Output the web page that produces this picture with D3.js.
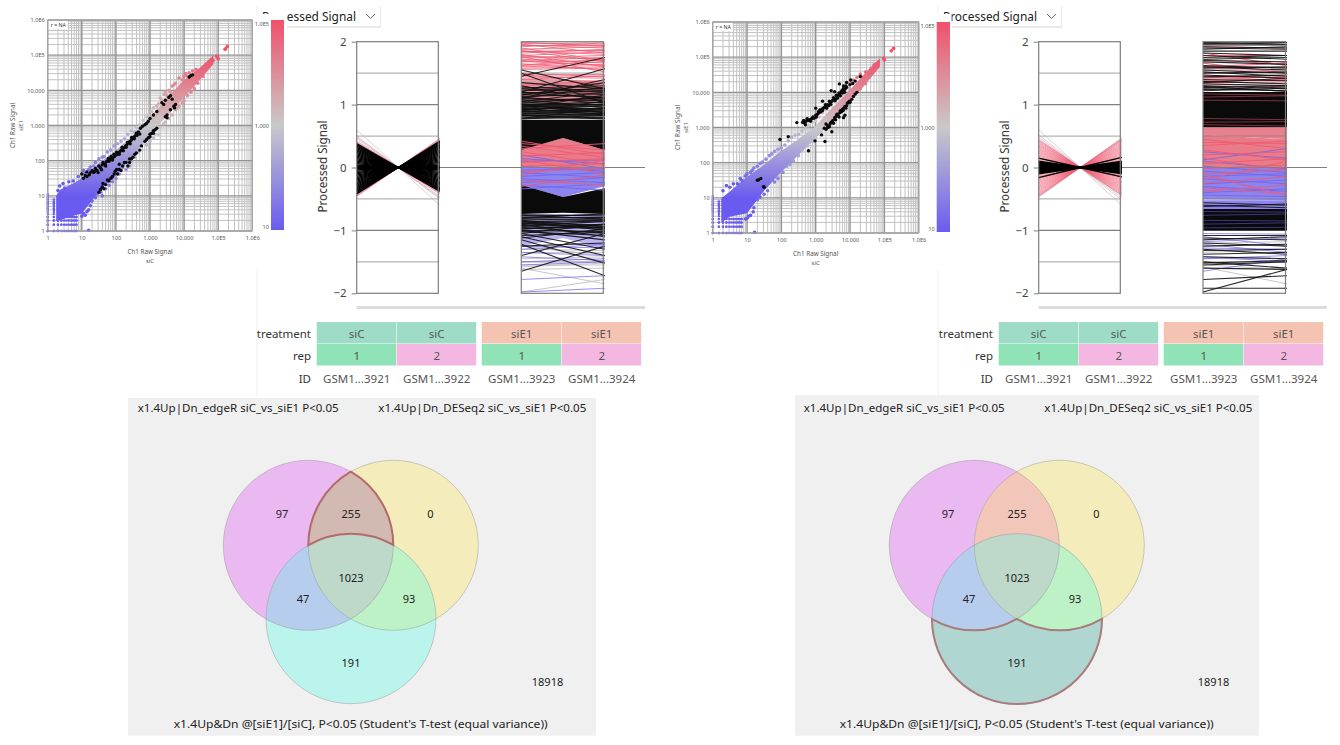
<!DOCTYPE html>
<html>
<head>
<meta charset="utf-8">
<script src="https://cdn.jsdelivr.net/npm/d3@7/dist/d3.min.js"></script>
<style>
html,body{margin:0;padding:0;background:#fff}
svg{display:block}
text{font-family:"Noto Sans","Open Sans",sans-serif;fill:#444}
</style>
</head>
<body>
<svg id="chart" width="1340" height="745"></svg>
<script>
// ---- scatter data: log10 signal pairs [siC, siE1] ----
const axisTickValues = [1, 10, 100, 1000, 10000, 100000, 1000000];
const axisTickLabels = ["1", "10", "100", "1,000", "10,000", "1.0E5", "1.0E6"];
const legendTickValues = [10, 1000, 100000];
const legendTickLabels = ["10", "1,000", "1.0E5"];

const bodyKnotsA = [[.25,.28,1.0],[.36,.31,1.17],[.8,.45,1.38],[1.0,.5,1.5],[1.53,1.15,1.95],[2.02,1.6,2.3],[2.5,2.15,2.72],[3.0,2.74,3.24],[3.49,3.26,3.76],[3.98,3.78,4.28],[4.47,4.3,4.65],[4.86,4.75,5.0]];
const bodyKnotsB = [[.25,.3,.98],[.5,.46,1.18],[1.0,.56,1.6],[1.48,1.18,1.93],[1.96,1.7,2.31],[2.45,2.17,2.64],[2.93,2.64,2.98],[3.42,3.12,3.5],[3.9,3.64,3.97],[4.39,4.16,4.49],[4.87,4.73,4.97]];

const fringeA = [[1.09,1.64],[.9,1.55],[.75,1.42],[.62,1.4],[.45,1.35],[.35,1.28],[.5,1.22],[.3,1.15],[1.2,1.75],[1.35,1.85],[1.65,2.12],[1.85,2.3],[2.15,2.55],[2.35,2.75],[2.6,2.95],[2.8,3.15],[2.9,3.25],[3.1,3.5],[3.2,3.55],[3.35,3.72],[3.5,3.85],[3.45,3.95],[3.55,4.0],[3.65,4.12],[3.7,4.15],[3.85,4.35],[4.0,4.4],[4.1,4.4],[4.15,4.5],[1.15,.55],[1.2,.6],[1.1,.45],[.95,.55],[1.45,1.05],[1.6,1.0],[1.9,1.4],[1.9,1.5],[2.2,1.8],[2.45,2.0],[2.75,2.45],[2.85,2.55],[3.1,2.65],[3.25,2.75],[3.4,3.05],[3.55,3.2],[3.75,3.45],[3.85,3.55],[3.95,3.65],[4.1,3.85],[4.3,4.05],[1.2,.02],[4.62,4.68],[4.7,4.77],[4.74,4.72],[4.78,4.76],[4.85,4.85],[4.95,4.97],[5.0,4.9],[4.98,4.95],[5.2,5.17],[5.27,5.25],[5.22,5.18],
  [1.05,1.72],[1.25,1.82],[1.4,1.95],[1.5,2.05],[1.6,2.1],[1.75,2.25],[1.95,2.42],[2.05,2.48],[2.25,2.62],[2.45,2.85],[2.55,2.82],[2.7,3.02],[2.95,3.3],[3.05,3.4],[3.25,3.62],[3.3,3.78],[3.42,3.88],[3.6,3.95],[3.75,4.2],[3.95,4.3],[4.05,4.48],[4.25,4.55],[4.35,4.6],
  [1.0,.42],[1.05,.5],[1.25,.72],[1.3,.85],[1.4,.95],[1.55,1.1],[1.7,1.2],[1.8,1.3],[2.0,1.5],[2.1,1.62],[2.3,1.75],[2.4,1.85],[2.55,2.1],[2.65,2.25],[2.9,2.45],[3.0,2.55],[3.15,2.75],[3.3,2.95],[3.45,3.1],[3.65,3.3],[3.8,3.5],[4.0,3.7],[4.2,3.95],[4.4,4.2],[4.55,4.4]];
const fringeB = [[.3,1.2],[.5,1.3],[.72,1.4],[.85,1.5],[1.0,1.68],[1.15,1.78],[1.3,1.9],[1.45,2.02],[1.65,2.2],[1.72,2.25],[1.9,2.38],[2.1,2.5],[2.3,2.72],[2.6,2.9],[2.8,3.05],[3.1,3.3],[3.3,3.55],[3.6,3.85],[3.85,4.1],[4.1,4.35],[.95,.4],[1.1,.5],[1.18,.6],[1.3,.95],[1.5,1.1],[1.72,1.5],[1.9,1.55],[2.15,1.9],[2.35,2.05],[2.6,2.35],[3.0,2.7],[3.3,3.05],[3.6,3.4],[4.0,3.75],[4.3,4.1],[1.22,.02],[4.45,4.58],[4.55,4.6],[4.62,4.68],[4.7,4.78],[4.76,4.8],[4.82,4.82],[4.98,4.97],[5.0,4.92],[5.2,5.18],[5.27,5.25],
  [.4,1.35],[.6,1.4],[.8,1.55],[.95,1.62],[1.1,1.72],[1.2,1.85],[1.38,1.98],[1.55,2.1],[1.8,2.32],[2.0,2.42],[2.2,2.62],[2.4,2.78],[2.5,2.8],[2.7,2.98],[2.9,3.15],[3.0,3.2],[3.2,3.42],[3.4,3.65],[3.7,3.95],[4.0,4.28],[4.2,4.42],[4.3,4.52],
  [1.0,.42],[1.05,.48],[1.2,.72],[1.38,1.02],[1.6,1.2],[1.8,1.45],[2.05,1.72],[2.25,1.95],[2.5,2.2],[2.75,2.48],[2.9,2.6],[3.15,2.88],[3.45,3.15],[3.75,3.5],[4.15,3.95],[4.45,4.25],[4.6,4.5]];

const blackUpperA = [[1.0,1.62],[1.1,1.58],[1.15,1.68],[1.22,1.6],[1.3,1.72],[1.35,1.66],[1.4,1.78],[1.45,1.72],[1.5,1.85],[1.55,1.8],[1.6,1.88],[1.62,1.95],[1.68,1.9],[1.72,1.97],[1.76,2.0],[1.8,1.98],[1.84,2.04],[1.88,2.06],[1.92,2.1],[1.96,2.12],[2.0,2.16],[2.04,2.18],[2.08,2.22],[2.12,2.26],[2.16,2.3],[2.2,2.34],[2.24,2.37],[2.28,2.42],[2.32,2.45],[2.36,2.5],[2.4,2.54],[2.44,2.57],[2.48,2.62],[2.52,2.66],[2.56,2.7],[2.62,2.72],[2.66,2.82],[2.72,2.92],[2.78,2.98],[2.85,3.02],[2.95,3.12],[3.0,3.2],[3.2,3.4],[3.35,3.65],[3.4,3.6],[3.6,3.85],[3.65,3.75],[4.15,4.38],[4.2,4.42],[4.25,4.44],
  [2.02,2.24],[2.1,2.18],[2.18,2.38],[2.22,2.28],[2.3,2.38],[2.34,2.52],[2.42,2.48],[2.46,2.66],[2.54,2.62],[1.9,2.02],[1.86,2.12],[1.94,2.18],[1.78,2.06],[1.7,1.85],[1.58,1.74],[1.48,1.66],[1.38,1.7],[1.25,1.66],[1.05,1.5],[1.15,1.55],[2.6,2.78],[2.7,2.76],[2.9,3.06],[3.1,3.3],[3.55,3.8],[3.45,3.72]];
const blackLowerA = [[1.5,1.1],[1.55,1.18],[1.6,1.25],[1.62,1.35],[1.7,1.32],[1.75,1.45],[1.85,1.5],[1.9,1.55],[1.95,1.62],[1.98,1.7],[2.05,1.62],[2.02,1.75],[2.1,1.75],[2.2,1.85],[2.3,1.95],[2.35,1.85],[2.4,2.05],[2.45,2.05],[2.5,2.1],[2.6,2.22],[2.7,2.3],[2.85,2.55],[2.95,2.65],[3.0,2.75],[3.05,2.78],[3.1,2.85],[3.15,2.88],[3.2,2.92],[3.45,3.25],[3.5,3.3],[3.7,3.55],[3.72,3.5],[3.75,3.6],
  [2.1,1.9],[2.25,1.95],[2.4,1.95],[2.55,2.18],[2.15,1.72],[1.8,1.42],[1.65,1.2],[3.0,2.68],[3.1,2.78],[3.5,3.22],[3.6,3.45],[2.75,2.42],[2.9,2.6]];
const blackUpperB = [[2.62,3.15],[2.68,3.12],[2.72,3.18],[2.78,3.2],[2.82,3.22],[2.88,3.25],[2.92,3.3],[2.95,3.26],[3.0,3.35],[3.05,3.38],[3.1,3.42],[3.12,3.5],[3.18,3.52],[3.22,3.55],[3.26,3.58],[3.3,3.6],[3.34,3.65],[3.38,3.62],[3.42,3.7],[3.46,3.74],[3.5,3.78],[3.54,3.82],[3.58,3.8],[3.62,3.88],[3.66,3.92],[3.7,3.95],[3.74,4.0],[3.78,3.98],[3.82,4.06],[3.86,4.1],[3.9,4.14],[4.0,4.22],[4.08,4.25],[4.15,4.32],[4.3,4.45],[3.45,4.05],[3.69,4.24],[3.81,4.18],[3.2,3.75],[3.0,3.55],[3.55,4.02],[2.45,3.14],[3.9,4.28],[4.02,4.35],
  [3.02,3.3],[3.08,3.45],[3.15,3.45],[3.2,3.48],[3.28,3.65],[3.32,3.55],[3.4,3.75],[3.44,3.66],[3.52,3.85],[3.56,3.76],[3.6,3.92],[3.64,3.84],[3.68,3.98],[3.72,3.9],[3.76,4.05],[3.8,4.1],[3.84,4.0],[3.88,4.18],[2.7,3.08],[2.85,3.18],[2.65,3.2],[2.75,3.25]];
const blackLowerB = [[3.25,2.98],[3.3,2.95],[3.35,3.05],[3.42,3.1],[3.5,3.2],[3.55,3.28],[3.6,3.32],[3.65,3.35],[3.7,3.42],[3.72,3.48],[3.78,3.52],[3.82,3.55],[3.85,3.6],[3.9,3.62],[3.95,3.7],[4.0,3.72],[4.05,3.8],[4.15,3.95],[4.2,4.0],[3.81,3.28],[3.85,3.35],[3.47,2.88],[3.27,2.6],[2.98,2.62],[2.79,2.34],[3.17,2.79],[1.96,2.66],[2.2,2.74],[1.33,1.51],[1.4,1.55],[1.48,1.32],[1.5,1.3],[1.3,1.5],
  [3.35,3.0],[3.4,3.02],[3.45,3.15],[3.52,3.12],[3.58,3.22],[3.62,3.38],[3.68,3.3],[3.75,3.45],[3.8,3.48],[3.88,3.55],[3.92,3.7],[3.98,3.75],[4.1,3.88],[3.3,3.1]];

// Low-count signals sit on a discrete lattice of log10 levels.
const latticeLevels = [0,.18,.3,.4,.48,.54,.6,.65,.7,.74,.78,.82,.85];
const latticeRowReach = [[0,.85],[.18,.85],[.3,.85],[.4,.85]];
const latticeColReach = [[0,1.05],[.18,.9],[.3,1.0],[.4,1.05]];

// ---- parallel-coordinate data ----
const valueTicks = [2, 1, 0, -1, -2];
const gridMajor = [1, 0, -1];
const gridMinor = [1.5, .5, -.5, -1.5];

const fanBlackA = [-.42,-.4,-.38,-.36,-.34,-.32,-.3,-.28,-.26,-.24,-.22,-.2,-.18,-.16,-.14,-.12,-.1,-.08,-.06,-.04,-.02,0,.02,.04,.06,.08,.1,.12,.14,.16,.18,.2,.22,.24,.26,.28,.3,.32,.34,.36,.38];
const fanPinkA = [-.46,-.44,-.42,.42,.4];
const fanGreyA = [.6,.5,.48,.46,-.45];
const fanBlackB = [-.16,-.1,-.09,-.08,-.07,-.06,-.05,-.04,-.03,-.02,-.01,0,.01,.02,.03,.04,.05,.06,.07,.08,.09,.1,.15];
const fanPinkB = [-.46,-.44,-.42,-.4,-.38,-.36,-.34,-.32,-.3,-.28,-.26,-.24,-.22,-.2,-.18,-.16,-.14,-.12,.12,.14,.16,.18,.2,.22,.24,.26,.28,.3,.32,.34,.36,.38,.4,.42,.44];
const fanGreyB = [.6,.52,.48,.45,-.47,-.44];

// Shaded bands: [position across the panel, lower value, upper value]
const lensUpA = [[0,0,.28],[.5,0,.47],[1,0,.28]];
const lensDownA = [[0,-.28,0],[.5,-.47,0],[1,-.3,0]];
const solidUpA = [[0,.28,.76],[.5,.47,.76],[1,.28,.76]];
const solidDownA = [[0,-.74,-.28],[.5,-.72,-.47],[1,-.74,-.33]];
const paleRedA = [[0,1.02,1.42],[1,1.02,1.38]];
const paleBlueA = [[0,-1.25,-.74],[.5,-1.12,-.74],[1,-1.3,-.74]];
const lensUpB = [[0,0,.52],[1,0,.45]];
const lensDownB = [[0,-.5,0],[1,-.52,0]];
const solidUpB = [[0,.64,1.2],[1,.64,1.2]];
const solidDownB = [[0,-1.0,-.66],[1,-1.0,-.66]];
const paleRedB = [[0,.52,.64],[1,.45,.64]];
const paleBlueB = [[0,-.66,-.52],[1,-.66,-.52]];

// Individual profiles: [value at left edge, value at right edge]
const redTopA = [[1.98,1.96],[1.95,1.9],[1.92,1.98],[1.9,1.7],[1.88,1.92],[1.85,1.8],[1.82,1.88],[1.8,1.6],[1.78,1.84],[1.75,1.78],[1.72,1.66],[1.7,1.75],[1.68,1.7],[1.65,1.55],[1.62,1.68],[1.6,1.64],[1.96,1.82],[1.58,1.6],[1.99,1.93],[1.76,1.52],[1.5,1.44],[1.47,1.48],[1.44,1.42],[1.49,1.3],[1.4,1.46],[1.3,1.38],[1.94,1.94],[1.84,1.86],[1.77,1.72],[1.69,1.62],[1.86,1.68],[1.63,1.72],[1.56,1.58]];
const greyTopA = [[1.97,1.99],[1.87,1.86],[1.74,1.74],[1.45,1.45],[1.38,1.36]];
const blackTopA = [[1.55,1.25],[1.5,1.02],[1.45,1.75],[1.2,1.57],[1.35,1.25],[1.1,1.4],[1.3,1.05],[1.25,1.2],[1.15,1.35],[1.2,1.1],[1.1,1.28],[1.05,1.2],[1.0,1.0],[1.08,.95],[.95,1.15],[.9,1.05],[1.0,.88],[.92,.98],[.88,.95],[1.02,1.12],[.85,.9],[.82,.86],[.78,.95],[.98,.92],[.94,.84],[1.12,1.02],[1.18,1.22],
  [.78,.8],[.8,.78],[.82,.8],[.84,.82],[.86,.84],[.88,.86],[.9,.88],[.92,.9],[.94,.94],[.96,.98],[.98,1.0],[1.0,1.04],[1.03,1.0],[1.05,1.08],[1.07,1.1],[1.1,1.06],[1.13,1.16],[1.16,1.12],[1.19,1.18],[1.22,1.25],[1.26,1.3],[1.28,1.22],[.77,.83],[.83,.77],[.89,.93],[.97,.87]];
const blackBottomA = [[-1.65,-1.25],[-1.22,-1.72],[-1.15,-1.52],[-1.1,-1.4],[-1.25,-1.2],[-1.05,-1.3],[-1.0,-1.15],[-.95,-1.05],[-.9,-1.1],[-1.05,-.9],[-.85,-1.0],[-.88,-.85],[-1.4,-1.05],[-.92,-.86],[-.84,-.94],[-1.12,-.98],[-.98,-.9],[-1.02,-1.08],
  [-.75,-.77],[-.77,-.75],[-.79,-.8],[-.81,-.79],[-.83,-.82],[-.86,-.84],[-.89,-.91],[-.92,-.93],[-.94,-.97],[-.97,-.95],[-1.0,-1.02],[-.76,-.82],[-.8,-.74],[-1.08,-1.03],[-.88,-.96]];
const blueBottomA = [[-1.42,-1.48],[-1.5,-1.45],[-1.55,-1.5],[-1.78,-1.72],[-1.25,-1.28],[-1.35,-1.4],[-1.98,-1.92],[-1.3,-1.22]];
const greyBottomA = [[-1.98,-1.78],[-1.6,-1.85],[-1.55,-1.55],[-1.5,-1.5],[-1.35,-1.35],[-1.45,-1.42],[-1.62,-1.6],[-1.3,-1.32],[-1.58,-1.52],[-1.25,-1.4]];
const redLensA = [[.42,.2],[.3,.38],[.25,.05],[.18,.24],[.12,-.1],[.08,.14],[.02,.06],[-.06,-.02],[-.12,.12],[-.2,-.28],[-.3,-.12],[.38,.28],[.34,.16]];
const blueLensA = [[.2,-.02],[.1,.12],[.02,-.06],[-.04,-.02],[-.08,-.16],[-.14,-.08],[-.18,-.24],[-.24,-.16],[-.28,-.36],[-.34,-.26],[.14,.06]];

const redTopB = [[1.72,1.64],[1.66,1.5],[1.46,1.42],[1.42,1.44],[1.38,1.4],[1.92,1.9],[1.82,1.62],[1.55,1.55],[1.78,1.78],[1.6,1.66],[1.3,1.28],[1.35,1.36],[1.44,1.38]];
const blackTopB = [[1.99,1.96],[1.95,1.95],[1.92,1.9],[1.88,1.92],[1.85,1.85],[1.78,1.72],[1.75,1.78],[1.68,1.64],[1.62,1.58],[1.58,1.6],[1.55,1.5],[1.52,1.45],[1.5,1.52],[1.4,1.38],[1.35,1.42],[1.3,1.25],[1.27,1.3],
  [1.25,1.22],[1.24,1.28],[1.33,1.3],[1.37,1.33],[1.47,1.42],[1.44,1.47],[1.6,1.55],[1.7,1.68],[1.72,1.75],[1.82,1.78],[1.9,1.88],[1.97,1.99],[1.22,1.26],[1.29,1.21]];
const streakRedB = [[1.17,1.15],[1.12,1.14],[1.07,1.06],[.78,.76],[.72,.73],[.68,.66]];
const streakBlueB = [[-.7,-.71],[-.76,-.74],[-.84,-.85],[-.9,-.88],[-.96,-.95]];
const blackBottomB = [[-1.98,-1.62],[-1.78,-1.72],[-1.92,-1.92],[-1.6,-1.62],[-1.55,-1.5],[-1.52,-1.48],[-1.5,-1.6],[-1.38,-1.35],[-1.32,-1.3],[-1.25,-1.22],[-1.2,-1.25],[-1.15,-1.1],[-1.42,-1.45],[-1.3,-1.38],[-1.12,-1.15],[-1.08,-1.08],[-.62,-.58],[-.56,-.6],[-.6,-.64]];
const blueBottomB = [[-1.42,-1.5],[-1.65,-1.45],[-1.22,-1.35],[-1.1,-1.25],[-1.05,-1.06],[-1.18,-1.12],[-1.45,-1.4],[-1.28,-1.3]];
const greyBottomB = [[-1.55,-1.62],[-1.58,-1.85],[-1.45,-1.45],[-1.35,-1.3],[-1.2,-1.18]];
const redLensB = [[.45,.3],[.35,.42],[.28,.12],[.2,.25],[.15,-.05],[.06,.14],[-.02,.04],[-.1,-.04],[-.2,.1],[-.32,-.42],[-.25,-.15],[-.38,-.28],[.4,.38],[-.12,-.44]];
const blueLensB = [[.25,.15],[.12,.3],[.1,-.02],[.02,-.08],[-.06,-.14],[-.14,-.1],[-.18,-.26],[-.26,-.2],[-.3,-.38],[-.4,-.34],[-.44,-.46]];

// ---- sample table ----
const treatments = ["siC", "siC", "siE1", "siE1"];
const replicates = ["1", "2", "1", "2"];
const sampleIds = ["GSM1...3921", "GSM1...3922", "GSM1...3923", "GSM1...3924"];

// ---- set overlap counts ----
const setTitles = ["x1.4Up|Dn_edgeR siC_vs_siE1 P<0.05", "x1.4Up|Dn_DESeq2 siC_vs_siE1 P<0.05", "x1.4Up&Dn @[siE1]/[siC], P<0.05 (Student's T-test (equal variance))"];
const regionCounts = { a: 97, ab: 255, b: 0, abc: 1023, ac: 47, bc: 93, c: 191, none: 18918 };

const svg = d3.select("#chart");
const defs = svg.append("defs");
let uid = 0;

// ---- colour ramp shared by the scatter and its legend ----
const rampColors = ["#6a5bf0", "#c9c9c9", "#f0506a"];
const signalColor = d3.scaleLog().domain(legendTickValues).range(rampColors).clamp(true);

function settingsBar(x0, x1) {
  svg.append("line").attr("x1", x0).attr("x2", x0).attr("y1", 5).attr("y2", 396).attr("stroke", "#efefef");
  const box = svg.append("g");
  box.append("rect").attr("x", x0 + 2).attr("y", 6).attr("width", x1 - x0 - 2).attr("height", 22).attr("fill", "#e9e9e9");
  box.append("rect").attr("x", x0 + 1).attr("y", 5).attr("width", x1 - x0 - 2).attr("height", 21).attr("fill", "#fff");
  box.append("text").attr("x", x0 + 5).attr("y", 21).attr("font-size", 12).attr("textLength", 94).attr("lengthAdjust", "spacingAndGlyphs").style("fill", "#222").text("Processed Signal");
  box.append("path").attr("d", `M${x1 - 15},14l4.5,4.5l4.5,-4.5`).attr("fill", "none").attr("stroke", "#666");
}

function scatter(o) {
  const g = svg.append("g");
  g.append("rect").attr("x", o.cover[0]).attr("y", 14).attr("width", o.cover[1] - o.cover[0]).attr("height", 256).attr("fill", "#fff");

  const x = d3.scaleLog().domain([1, 1e6]).range(o.xr);
  const y = d3.scaleLog().domain([1, 1e6]).range(o.yr);
  const minor = [];
  d3.range(0, 6).forEach(d => d3.range(2, 10).forEach(m => minor.push(m * 10 ** d)));
  const grid = g.append("g");
  grid.selectAll(".mx").data(minor).join("line").attr("x1", x).attr("x2", x).attr("y1", o.yr[0]).attr("y2", o.yr[1]).attr("stroke", "#c2c2c2").attr("stroke-width", 1);
  grid.selectAll(".my").data(minor).join("line").attr("y1", y).attr("y2", y).attr("x1", o.xr[0]).attr("x2", o.xr[1]).attr("stroke", "#c2c2c2").attr("stroke-width", 1);
  grid.selectAll(".Mx").data(axisTickValues).join("line").attr("x1", x).attr("x2", x).attr("y1", o.yr[0]).attr("y2", o.yr[1]).attr("stroke", "#929292").attr("stroke-width", 1.4);
  grid.selectAll(".My").data(axisTickValues).join("line").attr("y1", y).attr("y2", y).attr("x1", o.xr[0]).attr("x2", o.xr[1]).attr("stroke", "#929292").attr("stroke-width", 1.4);

  const labelOf = d => axisTickLabels[axisTickValues.indexOf(d)];
  const ax = g.append("g").attr("transform", `translate(0,${o.yr[0]})`).call(d3.axisBottom(x).tickValues(axisTickValues).tickFormat(labelOf).tickSize(0).tickPadding(5));
  const ay = g.append("g").attr("transform", `translate(${o.xr[0]},0)`).call(d3.axisLeft(y).tickValues(axisTickValues).tickFormat(labelOf).tickSize(0).tickPadding(3));
  [ax, ay].forEach(a => { a.select(".domain").remove(); a.selectAll("text").attr("font-size", 5.6).style("fill", "#555"); });

  const cx = (o.xr[0] + o.xr[1]) / 2;
  g.append("text").attr("x", cx).attr("y", o.yr[0] + 23).attr("text-anchor", "middle").attr("font-size", 6.3).style("fill", "#555").text("Ch1 Raw Signal");
  g.append("text").attr("x", cx).attr("y", o.yr[0] + 32).attr("text-anchor", "middle").attr("font-size", 6).style("fill", "#555").text("siC");
  const midY = (o.yr[0] + o.yr[1]) / 2;
  g.append("text").attr("transform", `translate(${o.xr[0] - 33},${midY}) rotate(-90)`).attr("text-anchor", "middle").attr("font-size", 6.3).style("fill", "#555").text("Ch1 Raw Signal");
  g.append("text").attr("transform", `translate(${o.xr[0] - 25},${midY}) rotate(-90)`).attr("text-anchor", "middle").attr("font-size", 6).style("fill", "#555").text("siE1");

  // ribbon of overplotted probes, coloured by signal level
  const gid = "ramp" + (++uid);
  const grad = defs.append("linearGradient").attr("id", gid).attr("gradientUnits", "userSpaceOnUse")
    .attr("x1", 0).attr("x2", 0).attr("y1", y(10)).attr("y2", y(1e5));
  [[0, rampColors[0]], [.5, rampColors[1]], [1, rampColors[2]]].forEach(s => grad.append("stop").attr("offset", s[0]).attr("stop-color", s[1]));
  const ribbon = d3.area().x(d => x(10 ** d[0])).y0(d => y(10 ** d[1])).y1(d => y(10 ** d[2]));
  g.append("path").attr("d", ribbon(o.body)).attr("fill", `url(#${gid})`);

  const lattice = [];
  latticeRowReach.forEach(r => latticeLevels.filter(v => v <= r[1]).forEach(v => lattice.push([v, r[0]])));
  latticeColReach.forEach(c => latticeLevels.concat([.9, .95, 1, 1.05]).filter(v => v <= c[1]).forEach(v => lattice.push([c[0], v])));
  g.selectAll(".lat").data(lattice).join("circle").attr("cx", d => x(10 ** d[0])).attr("cy", d => y(10 ** d[1])).attr("r", 1.2).attr("fill", rampColors[0]);

  g.selectAll(".fr").data(o.fringe).join("circle").attr("cx", d => x(10 ** d[0])).attr("cy", d => y(10 ** d[1])).attr("r", 1.8)
    .attr("fill", d => signalColor(10 ** ((d[0] + d[1]) / 2)));
  g.selectAll(".bk").data(o.black).join("circle").attr("cx", d => x(10 ** d[0])).attr("cy", d => y(10 ** d[1])).attr("r", 1.7).attr("fill", "#0a0a0a");

  g.append("rect").attr("x", o.xr[0]).attr("y", o.yr[1]).attr("width", o.xr[1] - o.xr[0]).attr("height", o.yr[0] - o.yr[1]).attr("fill", "none").attr("stroke", "#aaa");
  g.append("rect").attr("x", o.xr[0] + 1).attr("y", o.yr[1] + 1).attr("width", 19).attr("height", 8).attr("fill", "#fff");
  g.append("text").attr("x", o.xr[0] + 3).attr("y", o.yr[1] + 7).attr("font-size", 5.2).style("fill", "#333").text("r = NA");

  // colour legend
  const lg = defs.append("linearGradient").attr("id", "legend" + uid).attr("x1", 0).attr("x2", 0).attr("y1", 1).attr("y2", 0);
  [[0, rampColors[0]], [.5, rampColors[1]], [1, rampColors[2]]].forEach(s => lg.append("stop").attr("offset", s[0]).attr("stop-color", s[1]));
  g.append("rect").attr("x", o.bar[0]).attr("y", o.bar[2]).attr("width", o.bar[1] - o.bar[0]).attr("height", o.bar[3] - o.bar[2]).attr("fill", `url(#legend${uid})`);
  const ly = d3.scaleLog().domain([10, 1e5]).range([o.bar[3] - 3.5, o.bar[2] + 4]);
  const la = g.append("g").attr("transform", `translate(${o.bar[0]},0)`).call(d3.axisLeft(ly).tickValues(legendTickValues).tickFormat(d => legendTickLabels[legendTickValues.indexOf(d)]).tickSize(0).tickPadding(2));
  la.select(".domain").remove();
  la.selectAll("text").attr("font-size", 5.6).style("fill", "#555");
}

function parallel(o) {
  const g = svg.append("g");
  const y = d3.scaleLinear().domain([-2, 2]).range([293.3, 41.7]);
  const clipId = "panelclip" + (++uid);
  defs.append("clipPath").attr("id", clipId).append("rect").attr("x", o.p1[0] - 4).attr("y", y(2)).attr("width", o.end - o.p1[0] + 4).attr("height", y(-2) - y(2));

  const panels = [o.p1, o.p2];
  panels.forEach(p => {
    g.selectAll(null).data(gridMinor).join("line").attr("x1", p[0]).attr("x2", p[1]).attr("y1", y).attr("y2", y).attr("stroke", "#b4b4b4").attr("stroke-width", 1.3);
    g.selectAll(null).data(gridMajor).join("line").attr("x1", p[0]).attr("x2", p[1]).attr("y1", y).attr("y2", y).attr("stroke", "#808080").attr("stroke-width", 1.3);
  });
  g.append("line").attr("x1", o.p1[0]).attr("x2", o.end).attr("y1", y(0)).attr("y2", y(0)).attr("stroke", "#808080").attr("stroke-width", 1.2);

  const marks = g.append("g").attr("clip-path", `url(#${clipId})`);
  const across = p => d3.scaleLinear().domain([0, 1]).range([p[0], p[1] + 1.5]);

  // first panel: every profile pivots through zero at mid-width
  const x1 = across(o.p1);
  const fan = d3.line().x(d => x1(d[0])).y(d => y(d[1]));
  const drawFan = (vals, color, width, op) => marks.selectAll(null).data(vals).join("path")
    .attr("d", v => fan([[0, v], [.5, 0], [1, -v]])).attr("fill", "none").attr("stroke", color).attr("stroke-width", width).attr("opacity", op);
  drawFan(o.fanGrey, "#bba0a8", .9, .55);
  drawFan(o.fanPink, "#ee5a72", 1, .6);
  drawFan(o.fanBlack, "#000", 1.3, 1);

  // second panel: shaded bands and individual profiles
  const x2 = across(o.p2);
  const band = d3.area().x(d => x2(d[0])).y0(d => y(d[1])).y1(d => y(d[2]));
  const drawBand = (knots, color, op = 1) => marks.append("path").attr("d", band(knots)).attr("fill", color).attr("opacity", op);
  const prof = d3.line().x((d, i) => x2(i)).y(d => y(d));
  const drawLines = (rows, color, width, op) => marks.selectAll(null).data(rows).join("path")
    .attr("d", r => prof(r)).attr("fill", "none").attr("stroke", color).attr("stroke-width", width).attr("opacity", op);

  o.bands.forEach(b => drawBand(b[0], b[1], b[2]));
  o.lines.forEach(l => drawLines(l[0], l[1], l[2], l[3]));

  // guide lines that stay visible across the second panel's bands
  marks.selectAll(null).data(o.overlayGrid).join("line").attr("x1", o.p2[0]).attr("x2", o.p2[1]).attr("y1", y).attr("y2", y).attr("stroke", "#808080").attr("stroke-width", 1.1).attr("opacity", .7);

  panels.forEach(p => {
    g.append("rect").attr("x", p[0]).attr("y", y(2)).attr("width", p[1] - p[0]).attr("height", y(-2) - y(2)).attr("fill", "none").attr("stroke", "#7d7d7d").attr("stroke-width", 1.2);
  });

  const axis = g.append("g").attr("transform", `translate(${o.p1[0]},0)`).call(d3.axisLeft(y).tickValues(valueTicks).tickFormat(d3.format("d")).tickSize(5).tickPadding(5));
  axis.select(".domain").remove();
  axis.selectAll("line").attr("stroke", "#808080");
  axis.selectAll("text").attr("font-size", 11.5).style("fill", "#444");
  g.append("text").attr("transform", `translate(${o.p1[0] - 30},${y(0) - 1}) rotate(-90)`).attr("text-anchor", "middle").attr("font-size", 12).attr("textLength", 92).attr("lengthAdjust", "spacingAndGlyphs").style("fill", "#333").text("Processed Signal");

  g.append("rect").attr("x", o.p1[0]).attr("y", 306).attr("width", o.end - o.p1[0]).attr("height", 3).attr("fill", "#dcdcdc");
}

function sampleTable(dx) {
  const g = svg.append("g").attr("transform", `translate(${dx},0)`);
  const col = d3.scaleBand().domain(d3.range(4)).range([316.7, 636.7]);
  const left = i => col(i) + (i >= 2 ? 5 : 0);
  const rows = [
    { name: "treatment", y: 322, vals: treatments, color: d => d === "siC" ? "#9edcc7" : "#f5c3b2" },
    { name: "rep", y: 344, vals: replicates, color: d => d === "1" ? "#8fe3b6" : "#f4b7e1" }
  ];
  rows.forEach(r => {
    g.selectAll(null).data(r.vals).join("rect").attr("x", (d, i) => left(i)).attr("y", r.y).attr("width", col.bandwidth() - .5).attr("height", 21.5).attr("fill", r.color);
    g.selectAll(null).data(r.vals).join("text").attr("x", (d, i) => left(i) + col.bandwidth() / 2).attr("y", r.y + 15.5).attr("text-anchor", "middle").attr("font-size", 11.5).style("fill", "#555").text(d => d);
    g.append("text").attr("x", 311).attr("y", r.y + 16).attr("text-anchor", "end").attr("font-size", 11.5).style("fill", "#333").text(r.name);
  });
  g.selectAll(null).data(sampleIds).join("text").attr("x", (d, i) => left(i) + col.bandwidth() / 2).attr("y", 383).attr("text-anchor", "middle").attr("font-size", 11.5).style("fill", "#555").text(d => d);
  g.append("text").attr("x", 311).attr("y", 383).attr("text-anchor", "end").attr("font-size", 11.5).style("fill", "#333").text("ID");
}

function venn(o) {
  const g = svg.append("g");
  g.append("rect").attr("x", o.box[0]).attr("y", o.box[1]).attr("width", o.box[2] - o.box[0]).attr("height", o.box[3] - o.box[1]).attr("fill", "#f0f0f0");
  const R = 85;
  const dx = o.dx;
  const A = { x: 308.3 + dx, y: 545.3 }, B = { x: 393.3 + dx, y: 545.3 }, C = { x: 351 + dx, y: 618.7 };
  const clip = c => {
    const id = "vc" + (++uid);
    defs.append("clipPath").attr("id", id).append("circle").attr("cx", c.x).attr("cy", c.y).attr("r", R);
    return `url(#${id})`;
  };
  const cA = clip(A), cB = clip(B), cC = clip(C);
  const disc = (par, c, fill) => par.append("circle").attr("cx", c.x).attr("cy", c.y).attr("r", R).attr("fill", fill);
  disc(g, A, "#ebb9f2");
  disc(g, B, "#f5ecbb");
  disc(g.append("g").attr("clip-path", cA), B, o.abFill);
  disc(g, C, o.cFill);
  disc(g.append("g").attr("clip-path", cC), A, "#b7cdee");
  disc(g.append("g").attr("clip-path", cC), B, "#bcf2c6");
  disc(g.append("g").attr("clip-path", cC).append("g").attr("clip-path", cA), B, "#bed8ca");
  [A, B, C].forEach(c => g.append("circle").attr("cx", c.x).attr("cy", c.y).attr("r", R).attr("fill", "none").attr("stroke", "#8a8a8a").attr("stroke-opacity", .4));

  // crossing of two equal circles, on the given side of the line joining them
  const cross = (p, q, side) => {
    const mx = (p.x + q.x) / 2, my = (p.y + q.y) / 2, dxx = q.x - p.x, dyy = q.y - p.y;
    const d = Math.hypot(dxx, dyy), h = Math.sqrt(R * R - d * d / 4);
    return { x: mx + side * (-dyy / d) * h, y: my + side * (dxx / d) * h };
  };
  const top = cross(A, B, -1);
  const acIn = cross(A, C, -1);
  const bcIn = cross(B, C, 1);
  const acOut = cross(A, C, 1);
  const bcOut = cross(B, C, -1);
  const bottom = cross(A, B, 1);
  if (o.outline === "ab") {
    g.append("path").attr("d", `M${top.x},${top.y}A${R},${R} 0 0 1 ${acIn.x},${acIn.y}A${R},${R} 0 0 0 ${bcIn.x},${bcIn.y}A${R},${R} 0 0 1 ${top.x},${top.y}Z`)
      .attr("fill", "none").attr("stroke", "#b56a6a").attr("stroke-width", 2);
  } else {
    g.append("path").attr("d", `M${acOut.x},${acOut.y}A${R},${R} 0 1 0 ${bcOut.x},${bcOut.y}A${R},${R} 0 0 1 ${bottom.x},${bottom.y}A${R},${R} 0 0 1 ${acOut.x},${acOut.y}Z`)
      .attr("fill", "none").attr("stroke", "#a87c7c").attr("stroke-width", 2);
  }

  const num = (xp, yp, v) => g.append("text").attr("x", xp + dx).attr("y", yp + 4).attr("text-anchor", "middle").attr("font-size", 11).style("fill", "#222").text(v);
  num(282, 514, regionCounts.a);
  num(351, 514, regionCounts.ab);
  num(430.5, 514, regionCounts.b);
  num(351, 578, regionCounts.abc);
  num(303, 599, regionCounts.ac);
  num(409, 599, regionCounts.bc);
  num(351, 663, regionCounts.c);
  num(547.5, 682, regionCounts.none);
  const title = (xp, yp, t, w) => g.append("text").attr("x", xp + dx).attr("y", yp).attr("font-size", 11.6).attr("textLength", w).attr("lengthAdjust", "spacingAndGlyphs").style("fill", "#222").text(t);
  title(137.7, 412, setTitles[0], 201);
  title(378.3, 412, setTitles[1], 208);
  title(173.7, 728, setTitles[2], 374);
}

// ---- assemble the figure ----
settingsBar(257, 381);
settingsBar(938, 1062);

scatter({ xr: [47.7, 252.3], yr: [231, 20], bar: [271, 284, 20, 230], cover: [0, 287], body: bodyKnotsA, fringe: fringeA, black: blackUpperA.concat(blackLowerA) });
scatter({ xr: [712.7, 918.7], yr: [233, 22], bar: [936.7, 950, 22, 232], cover: [680, 951.5], body: bodyKnotsB, fringe: fringeB, black: blackUpperB.concat(blackLowerB) });

const pink = "#ee5a72", blue = "#7068f2";
parallel({
  p1: [356.7, 438.3], p2: [521.3, 603.3], end: 645, overlayGrid: [0],
  fanBlack: fanBlackA, fanPink: fanPinkA, fanGrey: fanGreyA,
  bands: [[paleRedA, "#e98594", .9], [paleBlueA, "#b3adf0", .9], [lensUpA, "#ea7c8a"], [lensDownA, "#8d84ee"], [solidUpA, "#0a0a0a"], [solidDownA, "#0a0a0a"]],
  lines: [[greyTopA, "#ccb9bd", 1, .8], [redTopA, pink, 1, .8], [greyBottomA, "#bfb5ba", 1, .8], [blueBottomA, blue, 1, .75], [blueLensA, blue, 1, .9], [redLensA, pink, 1, .9], [blackTopA, "#111", 1.1, .9], [blackBottomA, "#111", 1.1, .9]]
});
parallel({
  p1: [1038.7, 1120.3], p2: [1203, 1285.5], end: 1327, overlayGrid: [.5, 0, -.5],
  fanBlack: fanBlackB, fanPink: fanPinkB, fanGrey: fanGreyB,
  bands: [[paleRedB, "#e8808e"], [paleBlueB, "#8d84ee"], [lensUpB, "#ea7c8a"], [lensDownB, "#8d84ee"], [solidUpB, "#0a0a0a"], [solidDownB, "#0a0a0a"]],
  lines: [[greyBottomB, "#bfb5ba", 1, .8], [blueBottomB, blue, 1, .75], [redTopB, pink, 1.1, .9], [blueLensB, blue, 1, .9], [redLensB, pink, 1, .9], [streakRedB, "#a84454", .9, .8], [streakBlueB, "#5a52c0", .9, .7], [blackTopB, "#111", 1.1, .9], [blackBottomB, "#111", 1.1, .9]]
});

sampleTable(0);
sampleTable(682);

venn({ dx: 0, box: [128, 398, 596, 735.7], abFill: "#d2b9b1", cFill: "#baf4ec", outline: "ab" });
venn({ dx: 666, box: [795, 395, 1259, 735.7], abFill: "#f3c6ba", cFill: "#b0d6d2", outline: "c" });
</script>
</body>
</html>
